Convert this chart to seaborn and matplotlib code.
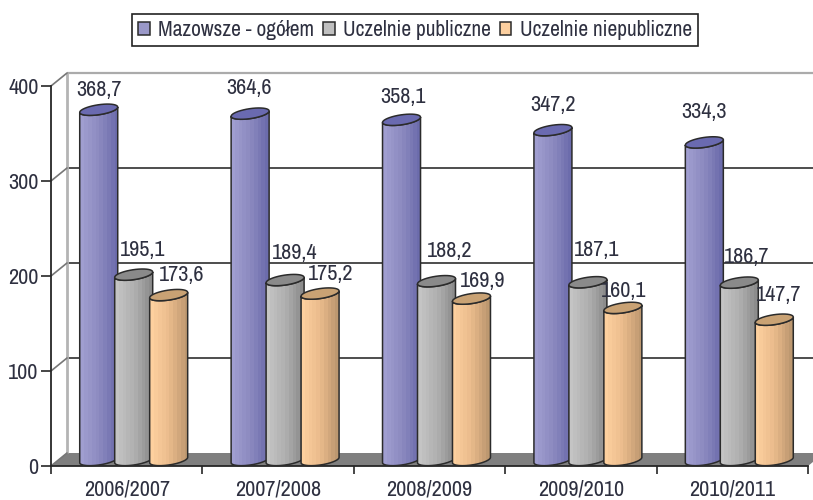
import numpy as np
import pandas as pd
import seaborn as sns
import matplotlib.pyplot as plt
from matplotlib import font_manager
from matplotlib.colors import LinearSegmentedColormap
from matplotlib.patches import Patch, PathPatch, Polygon
from matplotlib.path import Path
from matplotlib.transforms import Affine2D, IdentityTransform

years = ["2006/2007", "2007/2008", "2008/2009", "2009/2010", "2010/2011"]
mazowsze = [368.7, 364.6, 358.1, 347.2, 334.3]
publiczne = [195.1, 189.4, 188.2, 187.1, 186.7]
niepubliczne = [173.6, 175.2, 169.9, 160.1, 147.7]
names = ["Mazowsze - ogółem", "Uczelnie publiczne", "Uczelnie niepubliczne"]
y_ticks = [0, 100, 200, 300, 400]

# label nudges in pixels, the original places them rather loosely
label_dx = [[0, -1, 1, 0, 0], [8.5, 10, 13, 9, 7], [12.5, 11, 11, 0.5, 4]]
label_dy = [[20.7, 26.6, 23.8, 26, 31.4], [25.7, 28, 31, 33, 26.6], [21, 20.6, 18.6, 18, 25.7]]

# left, mid, right of the cylinder shading, then the lid
bar_colors = [
    ["#a09ed0", "#8c8ac0", "#6c6cac", "#6a6ab0"],
    ["#c4c4c4", "#b0b0b0", "#8c8c8c", "#8a8a8a"],
    ["#fdd09e", "#eabb8c", "#bd9870", "#c9a274"],
]
legend_colors = ["#9a98c8", "#c0c0c0", "#fccf9f"]
text_color = "#2e3040"
font_size = 16

sns.set_theme(style="white")
installed = {f.name for f in font_manager.fontManager.ttflist}
narrow = [f for f in ["Liberation Sans Narrow", "Archivo Narrow", "PT Sans Narrow", "Roboto Condensed"] if f in installed]
plt.rcParams["font.family"] = narrow[:1] + ["Liberation Sans", "DejaVu Sans"]

W, H = 813, 500
fig = plt.figure(figsize=(W / 100, H / 100), dpi=100)
ax = fig.add_axes([51 / W, (H - 466) / H, 757 / W, 380 / H])
ax.patch.set_alpha(0)

df = pd.DataFrame({"year": years, names[0]: mazowsze, names[1]: publiczne, names[2]: niepubliczne})
df = df.melt(id_vars="year", var_name="series", value_name="value")
sns.barplot(data=df, x="year", y="value", hue="series", hue_order=names, order=years,
            width=0.693, gap=0, legend=False, ax=ax)
ax.set_xlim(-0.5, 4.5)
ax.set_ylim(0, 400)
bars = list(ax.patches)

# depth of the fake 3d box, pixels
depth = (16, 13)
back = ax.transData + Affine2D().translate(*depth)
px = IdentityTransform()
to_px = ax.transData.transform

# floor
fl, fb = to_px((-0.5, 0)), to_px((4.5, 0))
ax.add_patch(Polygon([fl, fb, fb + depth, fl + depth], closed=True, facecolor="#7f7f7f",
                     edgecolor="none", transform=px, clip_on=False, zorder=1))

# back wall and grid
ax.hlines(y_ticks[1:-1], -0.5, 4.5, colors="#1c1c1c", lw=1.1, transform=back, clip_on=False, zorder=1.5)
ax.hlines(y_ticks[-1], -0.5, 4.5, colors="#ababab", lw=1.6, transform=back, clip_on=False, zorder=1.5)
ax.vlines(-0.5, 0, 400, colors="#b4b4b4", lw=2, transform=back, clip_on=False, zorder=1.5)
for t in y_ticks:
    p0 = to_px((-0.5, t))
    ax.plot([p0[0], p0[0] + depth[0]], [p0[1], p0[1] + depth[1]], color="#777777", lw=1.2,
            transform=px, clip_on=False, zorder=1.6)

# bar geometry
bar_w = 38 / (757 / 5)
lift = Affine2D().translate(7, 6)
a, b, shear = 19, 5, 0.14
n = len(years)


def arc(cx, cy, t0, t1):
    t = np.linspace(t0, t1, 40)
    return np.column_stack([cx + a * np.cos(t), cy + shear * a * np.cos(t) + b * np.sin(t)])


for i, p in enumerate(bars):
    s = i // n
    c = p.get_x() + p.get_width() / 2
    p.set_x(c - bar_w / 2)
    p.set_width(bar_w)
    p.set_visible(False)

    (x0, y0), (x1, y1) = lift.transform(to_px([(p.get_x(), 0), (p.get_x() + bar_w, p.get_height())]))
    cx = (x0 + x1) / 2
    z = 3 + s + i % n * 0.01
    outline = np.vstack([arc(cx, y0, np.pi, 2 * np.pi), arc(cx, y1, 2 * np.pi, np.pi)])
    body = Path(np.vstack([outline, outline[0]]), closed=True)

    cols = bar_colors[s]
    cmap = LinearSegmentedColormap.from_list("shade", cols[:3], N=10)
    im = ax.imshow(np.linspace(0, 1, 60).reshape(1, -1), cmap=cmap, aspect="auto",
                   extent=(x0, x1, y0 - 12, y1 + 12), transform=px, zorder=z, interpolation="nearest")
    im.set_clip_path(body, px)
    ax.add_patch(PathPatch(body, facecolor="none", edgecolor="#2b2b2b", lw=1.1, transform=px,
                           clip_on=False, zorder=z + 0.001))
    ax.add_patch(Polygon(arc(cx, y1, 0, 2 * np.pi), closed=True, facecolor=cols[3], edgecolor="#2b2b2b",
                         lw=1.1, transform=px, clip_on=False, zorder=z + 0.002))

    ax.text(cx + label_dx[s][i % n], y1 + label_dy[s][i % n] - 1, f"{p.get_height():.1f}".replace(".", ","),
            transform=px, ha="center", va="center", fontsize=font_size, color=text_color, zorder=10)

ax.set_xlim(-0.5, 4.5)
ax.set_ylim(0, 400)

# axes and ticks
for side in ["top", "right"]:
    ax.spines[side].set_visible(False)
for side in ["left", "bottom"]:
    ax.spines[side].set_color("#262626")
    ax.spines[side].set_linewidth(1.3)
    ax.spines[side].set_zorder(2)
ax.set_yticks(y_ticks)
ax.set_xticks(np.arange(-0.5, 5), labels=[])
ax.set_xticks(range(5), labels=years, minor=True)
ax.tick_params(axis="y", length=7, width=1.2, color="#262626", left=True, labelsize=font_size,
               labelcolor=text_color, pad=2)
ax.tick_params(axis="x", which="major", length=6, width=1.2, color="#262626", bottom=True)
ax.tick_params(axis="x", which="minor", length=0, labelsize=font_size, labelcolor=text_color, pad=10)
ax.set_xlabel("")
ax.set_ylabel("")

# legend
handles = [Patch(facecolor=c, edgecolor="#2b2b2b", lw=1.1, label=l) for c, l in zip(legend_colors, names)]
leg = fig.legend(handles=handles, loc="center", bbox_to_anchor=(415 / W, (H - 30) / H), ncol=3,
                 fontsize=15.4, fancybox=False, framealpha=1, edgecolor="#222222", labelcolor=text_color,
                 handlelength=0.55, handleheight=0.55, handletextpad=0.4, columnspacing=0.4,
                 borderpad=0.3, borderaxespad=0)
leg.get_frame().set_linewidth(1.2)

fig.savefig("out.png", dpi=100)
